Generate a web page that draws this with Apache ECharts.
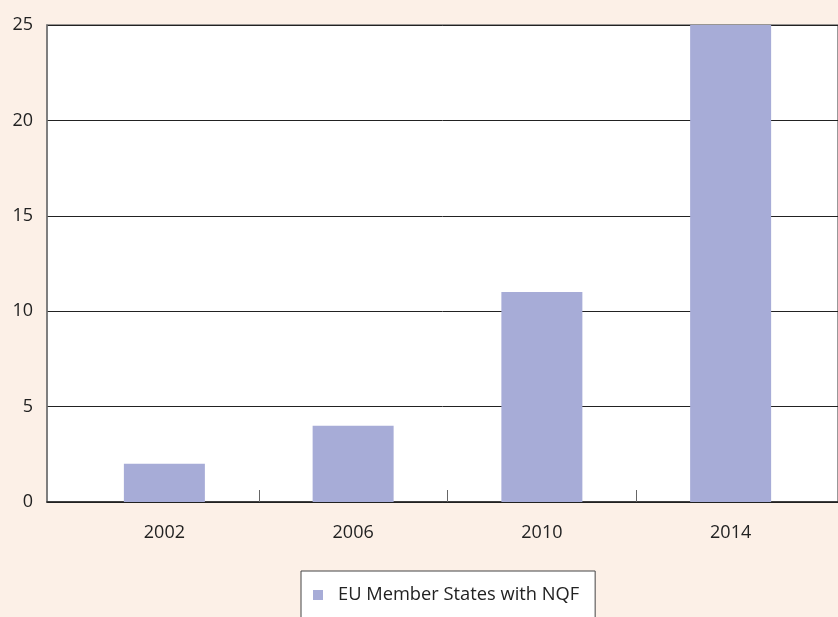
<!DOCTYPE html>
<html>
<head>
<meta charset="utf-8">
<script src="https://cdn.jsdelivr.net/npm/echarts@6/dist/echarts.min.js"></script>
<style>
  html, body { margin: 0; padding: 0; background: #fcf0e7; }
  #chart { width: 838px; height: 617px; }
</style>
</head>
<body>
<div id="chart"></div>
<script>
const years = ['2002', '2006', '2010', '2014'];
const memberStates = [2, 4, 11, 25];
const seriesName = 'EU Member States with NQF';
const yTicks = [0, 5, 10, 15, 20, 25];

const font = 'Open Sans';
const myChart = echarts.init(document.getElementById('chart'));

const option = {
    backgroundColor: '#fcf0e7',
    animation: false,
    grid: [
        // white plot background with top / left border
        {left: 47, right: -2, top: 25, bottom: 115, show: true, backgroundColor: '#fff', borderColor: '#777', borderWidth: 1.5},
        // bars are laid out on a slightly narrower band
        {left: 70, right: 13, top: 25, bottom: 115}
    ],
    legend: {
        data: [seriesName],
        left: 301,
        top: 571,
        width: 295,
        backgroundColor: '#fff',
        borderColor: '#444',
        borderWidth: 1,
        padding: [15, 16, 30, 12],
        itemWidth: 10,
        itemHeight: 10,
        icon: 'rect',
        textStyle: {fontFamily: font, fontSize: 18.3, color: '#222', padding: [0, 0, 0, 10]}
    },
    xAxis: [
        {
            gridIndex: 0, type: 'category', data: years,
            axisLine: {lineStyle: {color: '#222', width: 1.5}},
            axisTick: {show: false}, axisLabel: {show: false}
        },
        {
            gridIndex: 1, type: 'category', data: years, position: 'bottom',
            axisLine: {show: false},
            axisTick: {show: false},
            axisLabel: {fontFamily: font, fontSize: 18, color: '#222', margin: 22}
        },
        // separator ticks between the year bands only (no ticks at the ends)
        {
            gridIndex: 1, type: 'value', position: 'bottom',
            min: 0, max: years.length, interval: years.length,
            axisLine: {show: false},
            axisTick: {show: false, inside: true},
            axisLabel: {show: false},
            splitLine: {show: false},
            minorTick: {show: true, splitNumber: years.length, length: 12, lineStyle: {color: '#666', width: 1}}
        }
    ],
    yAxis: [
        {
            gridIndex: 0, type: 'value', min: yTicks[0], max: yTicks[yTicks.length - 1], interval: 5,
            axisLine: {show: true, lineStyle: {color: '#777', width: 1.5}},
            axisTick: {show: false},
            splitLine: {lineStyle: {color: '#222', width: 1}},
            axisLabel: {fontFamily: font, fontSize: 18, color: '#222', margin: 14}
        },
        {
            gridIndex: 1, type: 'value', min: yTicks[0], max: yTicks[yTicks.length - 1],
            show: false, splitLine: {show: false}
        }
    ],
    series: [
        {
            name: seriesName,
            type: 'bar',
            xAxisIndex: 1,
            yAxisIndex: 1,
            data: memberStates,
            barWidth: 81,
            itemStyle: {color: '#a7acd7'}
        }
    ]
};

option && myChart.setOption(option);
</script>
</body>
</html>
